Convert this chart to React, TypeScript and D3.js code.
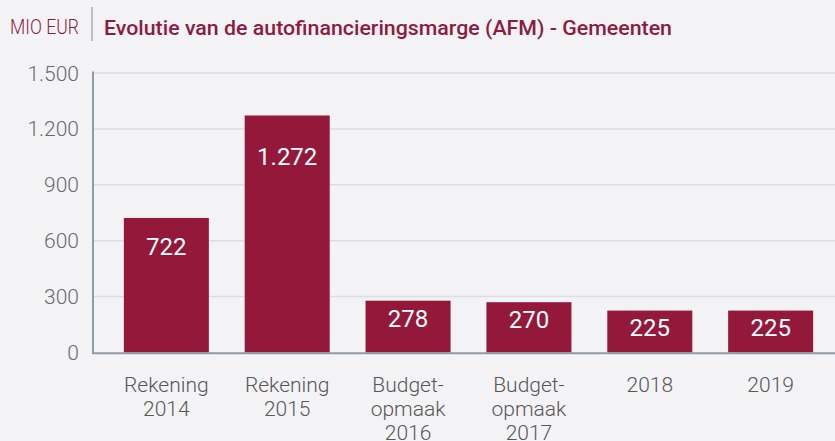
import React from "react";
import * as d3 from "d3";

const categories: string[][] = [
  ["Rekening", "2014"],
  ["Rekening", "2015"],
  ["Budget-", "opmaak", "2016"],
  ["Budget-", "opmaak", "2017"],
  ["2018"],
  ["2019"],
];
const values: number[] = [722, 1272, 278, 270, 225, 225];
const yTicks: number[] = [0, 300, 600, 900, 1200, 1500];
const unitLabel = "MIO EUR";
const title = "Evolutie van de autofinancieringsmarge (AFM) - Gemeenten";

const W = 835;
const H = 441;
const BG = "#f3f3f6";
const BAR = "#93183a";
const TITLE = "#8e1b3e";
const AXIS = "#8f9ba6";
const GRID = "#dcdde2";
const FONT = "Roboto, 'Noto Sans', sans-serif";

const nl = d3.formatLocale({ decimal: ",", thousands: ".", grouping: [3], currency: ["€", ""] });
const fmt = nl.format(",d");

export default function App() {
  const axisX = 93;
  const y = d3.scaleLinear().domain([0, 1500]).range([352.5, 73]);
  const step = 120.86;
  const c0 = 166.35;
  const x = d3
    .scaleBand<number>()
    .domain(values.map((_, i) => i))
    .range([c0 - step / 2, c0 + step * 5 + step / 2])
    .paddingInner(1 - 85 / step)
    .paddingOuter((1 - 85 / step) / 2);

  return (
    <svg
      width={W}
      height={H}
      style={{ position: "absolute", left: 0, top: 0, display: "block" }}
      fontFamily={FONT}
    >
      <rect x={0} y={0} width={W} height={H} fill={BG} />
      {/* title */}
      <text x={10} y={34} fontSize={20} fontWeight={300} fill={TITLE} textLength={69} lengthAdjust="spacingAndGlyphs">
        {unitLabel}
      </text>
      <line x1={92} x2={92} y1={7} y2={41} stroke="#a3adb8" strokeWidth={1.5} />
      <text x={104} y={35} fontSize={21} fontWeight={500} fill={TITLE} textLength={568} lengthAdjust="spacingAndGlyphs">
        {title}
      </text>

      {/* grid */}
      {yTicks.filter((t) => t > 0).map((t) => (
        <line key={t} x1={axisX} x2={W} y1={y(t)} y2={y(t)} stroke={GRID} strokeWidth={1.5} />
      ))}
      {/* y tick labels */}
      {yTicks.map((t) => (
        <text
          key={"l" + t}
          x={79}
          y={y(t)}
          dy="0.36em"
          textAnchor="end"
          fontSize={21}
          fontWeight={300}
          fill="#6a6a6a"
        >
          {fmt(t)}
        </text>
      ))}

      {/* bars */}
      {values.map((v, i) => {
        const top = y(v);
        const h = y(0) - top;
        const bx = x(i)!;
        return (
          <g key={i}>
            <rect x={bx} y={top} width={x.bandwidth()} height={h} fill={BAR} />
            <text
              x={bx + x.bandwidth() / 2}
              y={top + 20 + 0.125 * h}
              textAnchor="middle"
              fontSize={24}
              fontWeight={400}
              fill="#ffffff"
            >
              {fmt(v)}
            </text>
          </g>
        );
      })}

      {/* axes */}
      <line x1={axisX} x2={axisX} y1={71.5} y2={354} stroke={AXIS} strokeWidth={2} />
      <line x1={axisX - 1} x2={W} y1={353.3} y2={353.3} stroke={AXIS} strokeWidth={2} />

      {/* category labels */}
      {categories.map((lines, i) => (
        <text
          key={"c" + i}
          x={x(i)! + x.bandwidth() / 2}
          y={392}
          textAnchor="middle"
          fontSize={21}
          fontWeight={300}
          fill="#575757"
        >
          {lines.map((ln, j) => (
            <tspan key={j} x={x(i)! + x.bandwidth() / 2} y={392 + j * 24}>
              {ln}
            </tspan>
          ))}
        </text>
      ))}
    </svg>
  );
}
